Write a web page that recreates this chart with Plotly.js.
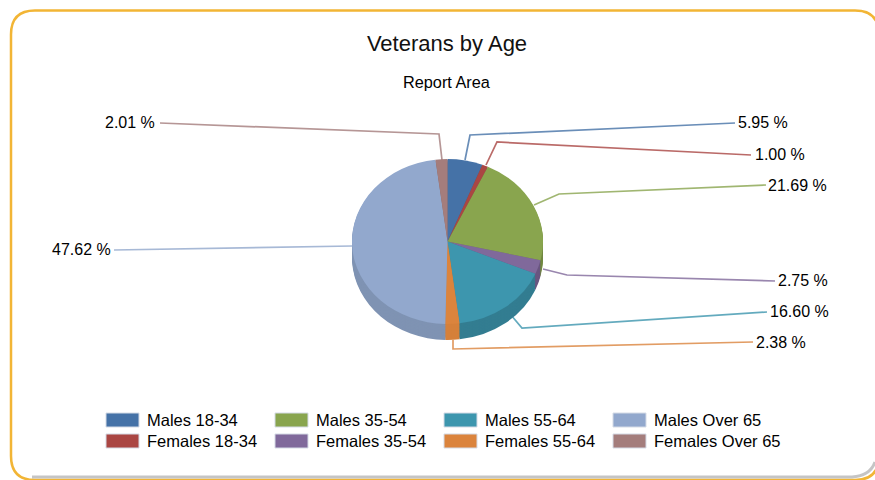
<!DOCTYPE html>
<html><head><meta charset="utf-8">
<script src="https://cdn.plot.ly/plotly-3.0.0.min.js"></script>
<style>html,body{margin:0;padding:0;background:#fff;overflow:hidden}#chart{width:875px;height:480px}</style>
</head><body><div id="chart"></div>
<script>
const sliceLabels = ['Males 18-34','Females 18-34','Males 35-54','Females 35-54','Males 55-64','Females 55-64','Males Over 65','Females Over 65'];
const sliceValues = [5.95,1.00,21.69,2.75,16.60,2.38,47.62,2.01];
const sliceColors = ['#4572a7','#aa4643','#89a54e','#80699b','#3d96ae','#db843d','#92a8cd','#a47d7c'];
const sideColors  = ['#3a6089','#8c3a38','#718840','#6a5680','#337d91','#d5803a','#7f93b3','#886867'];
const legendOrder = [0,2,4,6,1,3,5,7];

// Layout anchors, in page pixels
const W=875,H=480;
const cx=447.5, cy=241.5, rx=95.5, ry=82.5, depth=16;
const leaders = [
 [[465,160],[470,135],[735,123]],
 [[486,165],[497,142],[751,155]],
 [[534,205],[559,194],[766,185]],
 [[543,269],[567,275],[775,281]],
 [[505,308],[522,328],[767,312]],
 [[453,340],[453,349],[753,342]],
 [[352,246],[114,250]],
 [[442,160],[439,134],[160,123]]
];
const labelAnchors = [[736,123,'left'],[753,154,'left'],[766,185,'left'],[776,280,'left'],[768,311,'left'],[754,342,'left'],[113,249,'right'],[157,123,'right']];
const font='"Liberation Sans", Arial, sans-serif';
const px=x=>x/W, py=y=>1-y/H;

const k=ry/rx;
const traces=[];
function pie(colors,offset,name){
  const yc=cy+offset/k;
  return {type:'pie',name,labels:sliceLabels,values:sliceValues,sort:false,direction:'clockwise',rotation:0,
    textinfo:'none',hoverinfo:'label+percent',showlegend:false,
    marker:{colors,line:{width:0}},
    domain:{x:[px(cx-rx),px(cx+rx)],y:[py(yc+rx),py(yc-rx)]}};
}
for(let d=depth;d>0;d-=1.5) traces.push(pie(sideColors,d,'side'));
traces.push(pie(sliceColors,0,'top'));

const shapes=[], annotations=[];
// leader lines
leaders.forEach((pts,i)=>{
  const path=pts.map((p,j)=>(j?'L':'M')+px(p[0])+','+py(p[1])).join(' ');
  shapes.push({type:'path',xref:'paper',yref:'paper',path,layer:'below',line:{color:sliceColors[i],width:1.7},opacity:.8});
  const a=labelAnchors[i];
  annotations.push({xref:'paper',yref:'paper',x:px(a[0]),y:py(a[1]),xanchor:a[2],yanchor:'middle',showarrow:false,
    text:sliceValues[i].toFixed(2)+' %',font:{family:font,size:16,color:'#000'}});
});
// frame: its right and bottom edges run off the page
const fx0=11,fy0=10.5,fx1=879,fy1=480,r=24;
const fp=(x,y)=>px(x)+','+py(y);
shapes.unshift({type:'path',xref:'paper',yref:'paper',layer:'below',line:{color:'rgba(110,110,110,0.4)',width:3},
  path:`M${fp(32,477)} L${fp(852,477)} Q${fp(870,476)} ${fp(875,462)}`});
shapes.unshift({type:'path',xref:'paper',yref:'paper',layer:'below',line:{color:'#f2b535',width:2.5},fillcolor:'#ffffff',
  path:`M${fp(fx0+r,fy0)} L${fp(fx1-r,fy0)} Q${fp(fx1,fy0)} ${fp(fx1,fy0+r)} L${fp(fx1,fy1-r)} Q${fp(fx1,fy1)} ${fp(fx1-r,fy1)} L${fp(fx0+r,fy1)} Q${fp(fx0,fy1)} ${fp(fx0,fy1-r)} L${fp(fx0,fy0+r)} Q${fp(fx0,fy0)} ${fp(fx0+r,fy0)} Z`});
// legend
const colX=[106,275,444,613], rowY=[420,441];
legendOrder.forEach((idx,n)=>{
  const x=colX[n%4], y=rowY[Math.floor(n/4)];
  shapes.push({type:'rect',xref:'paper',yref:'paper',x0:px(x),x1:px(x+33),y0:py(y-7),y1:py(y+7),fillcolor:sliceColors[idx],line:{color:'#d5dbe6',width:1}});
  annotations.push({xref:'paper',yref:'paper',x:px(x+39),y:py(y),xanchor:'left',yanchor:'middle',showarrow:false,
    text:sliceLabels[idx],font:{family:font,size:16.5,color:'#000'}});
});
annotations.push({xref:'paper',yref:'paper',x:px(447),y:py(82),xanchor:'center',yanchor:'middle',showarrow:false,text:'Report Area',font:{family:font,size:16.3,color:'#000'}});

const layout={width:W,height:H,margin:{l:0,r:0,t:0,b:0},paper_bgcolor:'#fff',showlegend:false,
  title:{text:'Veterans by Age',x:447/W,xanchor:'center',y:py(43),yanchor:'middle',font:{family:font,size:22,color:'#111'}},
  shapes,annotations};
Plotly.newPlot('chart',traces,layout,{displayModeBar:false,staticPlot:true}).then(gd=>{
  // tilt the pie into the same oblique view as the original
  gd.querySelectorAll('.pielayer').forEach(g=>g.setAttribute('transform',`translate(0,${cy}) scale(1,${k}) translate(0,${-cy})`));
});
</script></body></html>
